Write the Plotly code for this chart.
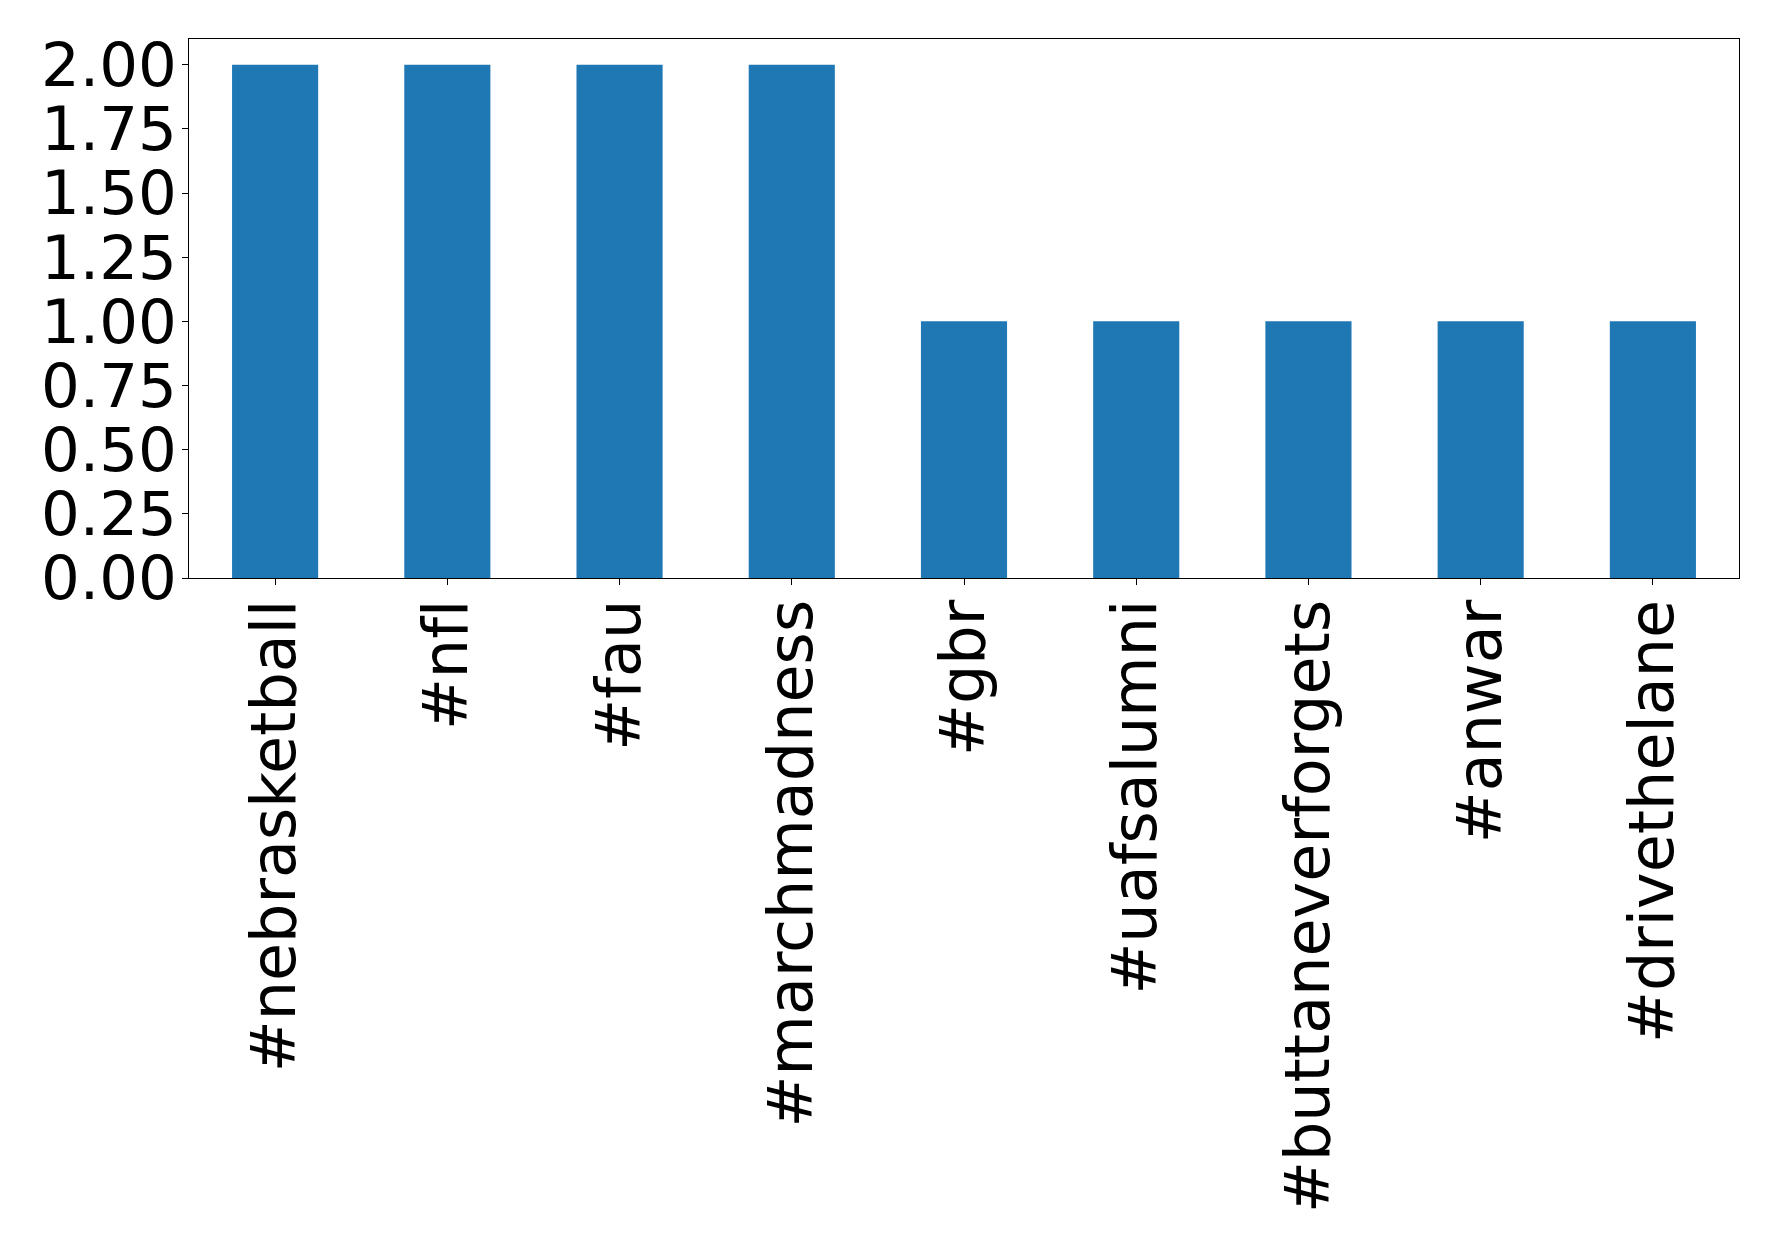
import plotly.graph_objects as go

categories = ["#nebrasketball", "#nfl", "#fau", "#marchmadness", "#gbr",
              "#uafsalumni", "#buttaneverforgets", "#anwar", "#drivethelane"]
counts = [2, 2, 2, 2, 1, 1, 1, 1, 1]
ytick_vals = [0, 0.25, 0.5, 0.75, 1.0, 1.25, 1.5, 1.75, 2.0]
ytick_text = ["0.00", "0.25", "0.50", "0.75", "1.00", "1.25", "1.50", "1.75", "2.00"]

# break the fl ligature so the label renders as in the reference
xtick_text = [c.replace("fl", "f\u200cl") for c in categories]

fig = go.Figure(go.Bar(x=categories, y=counts, width=0.5,
                       marker=dict(color="#1f77b4", line=dict(width=0))))

xfont = dict(family="DejaVu Sans", size=62, color="black")
yfont = dict(family="DejaVu Sans", size=61, color="black")
fig.update_layout(
    width=1770, height=1238,
    margin=dict(l=181, r=39, t=31, b=668, autoexpand=False),
    paper_bgcolor="white", plot_bgcolor="white",
    showlegend=False, font=xfont,
)
fig.update_xaxes(
    range=[-0.5, 8.5], tickangle=-90, ticks="outside", ticklen=6, tickwidth=1,
    tickvals=categories, ticktext=xtick_text,
    tickcolor="black", showline=True, linecolor="black", linewidth=1,
    mirror=True, showgrid=False, tickfont=xfont, ticklabelstandoff=-10,
)
fig.update_yaxes(
    range=[0, 2.1], tickvals=ytick_vals, ticktext=ytick_text, ticks="outside",
    ticklen=6, tickwidth=1, tickcolor="black", showline=True, linecolor="black",
    linewidth=1, mirror=True, showgrid=False, zeroline=False, tickfont=yfont,
    ticklabelstandoff=-7,
)
fig.write_html("out.html")
